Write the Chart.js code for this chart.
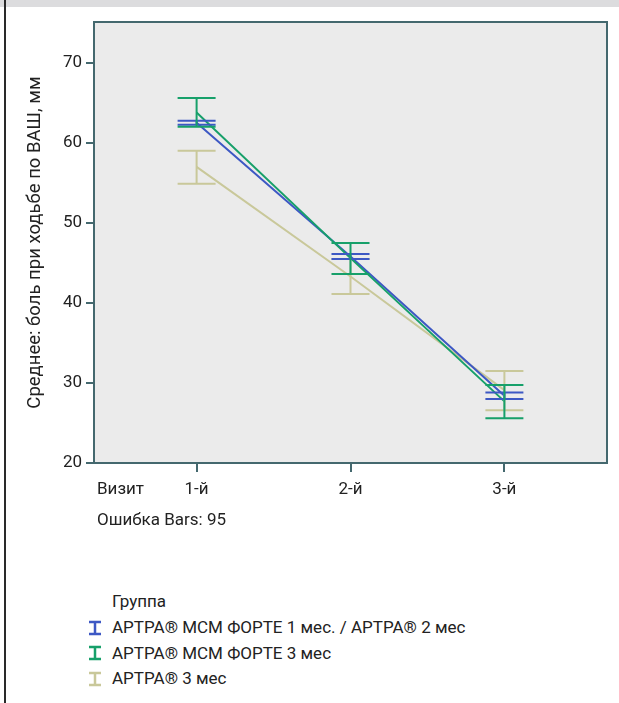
<!DOCTYPE html>
<html><head><meta charset="utf-8">
<script src="https://cdn.jsdelivr.net/npm/chart.js@4/dist/chart.umd.min.js"></script>
<style>
html,body{margin:0;padding:0;background:#fff;width:619px;height:703px;overflow:hidden;font-family:Roboto,sans-serif;color:#222;}
#band{position:absolute;left:0;top:0;width:619px;height:7px;background:#dcdcde;}
#lborder{position:absolute;left:4px;top:0;width:2px;height:703px;background:#2a2a2a;}
#wrap{position:absolute;left:0;top:0;width:619px;height:540px;}
.txt{position:absolute;font-size:17px;line-height:20px;white-space:nowrap;}
#legend{position:absolute;left:86px;top:590px;font-size:17px;line-height:25.5px;}
#legend .row{display:flex;align-items:center;height:25.5px;}
#legend .title{padding-left:26px;height:25px;line-height:22px;}
#legend svg{width:18px;height:16px;margin-right:8px;}
</style></head>
<body>
<div id="band"></div>
<div id="lborder"></div>
<div id="wrap"><canvas id="c" width="619" height="540"></canvas></div>
<div class="txt" id="xname" style="left:97px;top:478px;">Визит</div>
<div class="txt" id="errnote" style="left:97px;top:509px;">Ошибка Bars: 95</div>
<div id="legend"></div>
<script>
const categories = ['1-й', '2-й', '3-й'];
const xPositions = [1, 2, 3];
const yTicks = [20, 30, 40, 50, 60, 70];
const groups = ['АРТРА® МСМ ФОРТЕ 1 мес. / АРТРА® 2 мес', 'АРТРА® МСМ ФОРТЕ 3 мес', 'АРТРА® 3 мес'];
const legendTitle = 'Группа';
const yTitle = 'Среднее: боль при ходьбе по ВАШ, мм';

const meanBlue  = [62.5, 45.8, 28.4];
const lowBlue   = [62.25, 45.5, 28.0];
const highBlue  = [62.75, 46.1, 28.8];

const meanGreen = [63.8, 45.6, 27.7];
const lowGreen  = [62.0, 43.6, 25.6];
const highGreen = [65.6, 47.5, 29.75];

const meanKhaki = [57.0, 43.3, 29.1];
const lowKhaki  = [54.9, 41.1, 26.6];
const highKhaki = [59.0, 45.5, 31.5];

const colors = ['#3d58c4', '#17a06a', '#c9c89a'];
const frameColor = '#44686e';

const series = [
  {mean: meanBlue, low: lowBlue, high: highBlue},
  {mean: meanGreen, low: lowGreen, high: highGreen},
  {mean: meanKhaki, low: lowKhaki, high: highKhaki}
];

const datasets = series.map((s, i) => ({
  label: groups[i],
  data: xPositions.map((x, j) => ({x: x, y: s.mean[j]})),
  borderColor: colors[i],
  backgroundColor: colors[i],
  borderWidth: 2,
  pointRadius: 0,
  tension: 0,
  order: [1, 0, 2][i]
}));

const bgPlugin = {
  id: 'bg',
  beforeDraw(chart) {
    const {ctx, chartArea: a} = chart;
    ctx.save();
    ctx.fillStyle = '#ebebeb';
    ctx.fillRect(a.left, a.top, a.right - a.left, a.bottom - a.top);
    ctx.restore();
  },
  afterDraw(chart) {
    const {ctx, chartArea: a} = chart;
    ctx.save();
    ctx.strokeStyle = frameColor;
    ctx.lineWidth = 2;
    ctx.strokeRect(a.left, a.top, a.right - a.left, a.bottom - a.top);
    ctx.restore();
  }
};

const errPlugin = {
  id: 'errbars',
  afterDatasetsDraw(chart) {
    const {ctx, scales: {x, y}} = chart;
    const drawOrder = [2, 0, 1];
    ctx.save();
    ctx.lineWidth = 2;
    drawOrder.forEach(i => {
      const s = series[i];
      ctx.strokeStyle = colors[i];
      xPositions.forEach((xv, j) => {
        const px = x.getPixelForValue(xv);
        const pl = y.getPixelForValue(s.low[j]);
        const ph = y.getPixelForValue(s.high[j]);
        const hw = 19;
        ctx.beginPath();
        ctx.moveTo(px, pl); ctx.lineTo(px, ph);
        ctx.moveTo(px - hw, pl); ctx.lineTo(px + hw, pl);
        ctx.moveTo(px - hw, ph); ctx.lineTo(px + hw, ph);
        ctx.stroke();
      });
    });
    ctx.restore();
  }
};

new Chart(document.getElementById('c'), {
  type: 'line',
  data: {datasets},
  plugins: [bgPlugin, errPlugin],
  options: {
    responsive: false,
    animation: false,
    layout: {padding: {left: 0, top: 22, right: 12, bottom: 0}},
    plugins: {legend: {display: false}, tooltip: {enabled: false}},
    scales: {
      x: {
        type: 'linear',
        min: 1/3, max: 11/3,
        afterBuildTicks: sc => { sc.ticks = xPositions.map(v => ({value: v})); },
        afterFit: sc => { sc.height = 77; },
        grid: {drawOnChartArea: false, drawTicks: true, tickLength: 9, color: frameColor, lineWidth: 2},
        border: {display: true, color: frameColor, width: 2},
        ticks: {
          autoSkip: false, maxRotation: 0, padding: 8,
          color: '#222', font: {family: 'Roboto', size: 17},
          callback: v => categories[xPositions.indexOf(v)]
        }
      },
      y: {
        min: 20, max: 75.1,
        afterBuildTicks: sc => { sc.ticks = yTicks.map(v => ({value: v})); },
        afterFit: sc => { sc.width = 94; },
        grid: {drawOnChartArea: false, drawTicks: true, tickLength: 8, color: frameColor, lineWidth: 2},
        border: {display: true, color: frameColor, width: 2},
        ticks: {padding: 4, color: '#222', font: {family: 'Roboto', size: 17}},
        title: {display: true, text: yTitle, color: '#222', font: {family: 'Roboto', size: 18.5}, padding: {top: 24, bottom: 0}}
      }
    }
  }
});

const leg = document.getElementById('legend');
const t = document.createElement('div');
t.className = 'title';
t.textContent = legendTitle;
leg.appendChild(t);
groups.forEach((g, i) => {
  const row = document.createElement('div');
  row.className = 'row';
  row.innerHTML = '<svg viewBox="0 0 18 16"><path d="M3 2H15M9 2V14M3 14H15" stroke="' + colors[i] + '" stroke-width="2.5" fill="none"/></svg>';
  const sp = document.createElement('span');
  sp.textContent = g;
  row.appendChild(sp);
  leg.appendChild(row);
});
</script>
</body></html>
